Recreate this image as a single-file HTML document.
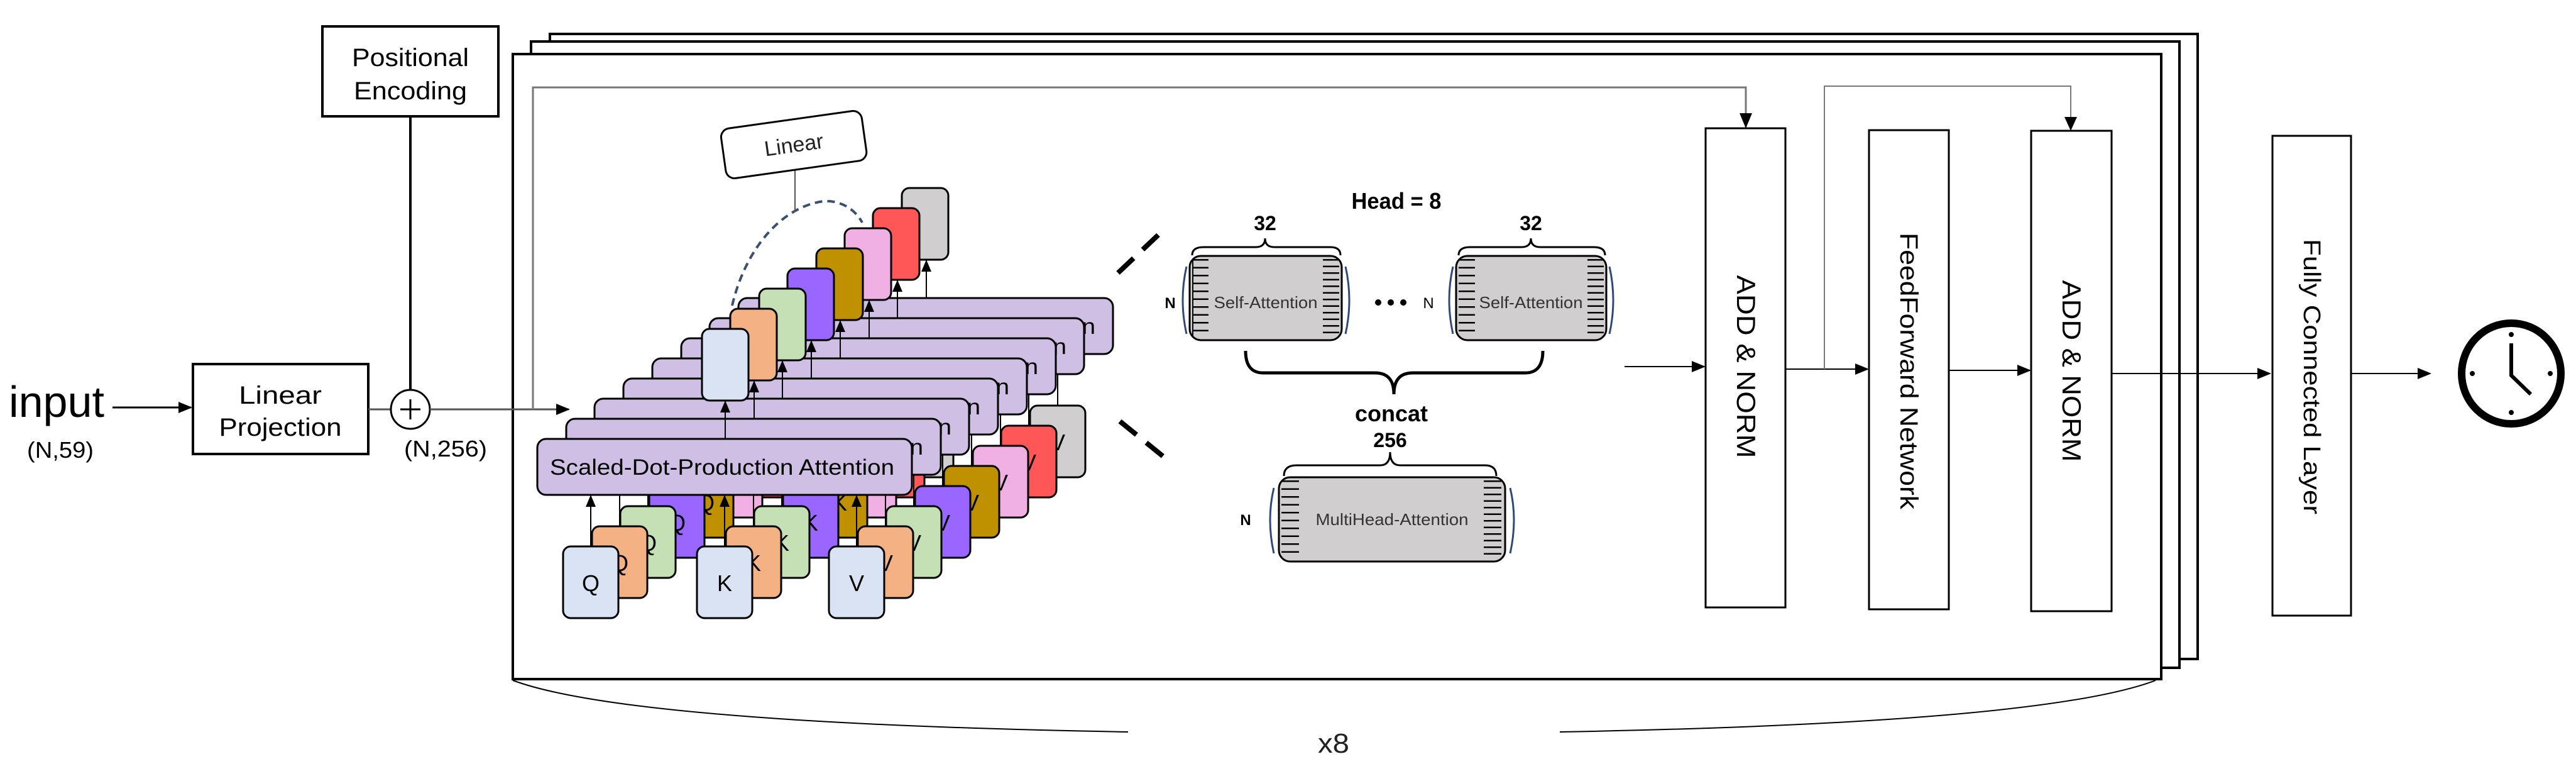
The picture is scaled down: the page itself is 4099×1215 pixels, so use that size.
<!DOCTYPE html>
<html><head><meta charset="utf-8"><style>
html,body{margin:0;padding:0;background:#fff;}
svg{display:block;}
text{font-family:"Liberation Sans",sans-serif;}
</style></head><body>
<svg width="4099" height="1215" viewBox="0 0 4099 1215" xmlns="http://www.w3.org/2000/svg">
<defs>
<marker id="ah" markerWidth="10" markerHeight="10" refX="9" refY="5" orient="auto" markerUnits="userSpaceOnUse" viewBox="0 0 10 10"><path d="M0,0 L10,5 L0,10 z" fill="#000"/></marker>
<marker id="ahb" markerWidth="22" markerHeight="22" refX="20" refY="11" orient="auto" markerUnits="userSpaceOnUse" viewBox="0 0 22 22"><path d="M0,2 L22,11 L0,20 z" fill="#000"/></marker>
</defs>

<!-- stacked frames -->
<rect x="875" y="54" width="2622" height="994" fill="#fff" stroke="#000" stroke-width="4"/>
<rect x="845" y="66" width="2623" height="996" fill="#fff" stroke="#000" stroke-width="4"/>
<rect x="816" y="86" width="2623" height="994" fill="#fff" stroke="#000" stroke-width="4"/>

<!-- left part -->
<text x="14" y="663" font-size="70" textLength="152" lengthAdjust="spacingAndGlyphs">input</text>
<text x="43" y="728" font-size="36" textLength="106" lengthAdjust="spacingAndGlyphs">(N,59)</text>
<line x1="179" y1="648" x2="304" y2="648" stroke="#000" stroke-width="3" marker-end="url(#ahb)"/>
<rect x="307" y="579" width="279" height="143" fill="#fff" stroke="#000" stroke-width="4"/>
<text x="446" y="642" font-size="40" text-anchor="middle" textLength="132" lengthAdjust="spacingAndGlyphs">Linear</text>
<text x="446" y="693" font-size="40" text-anchor="middle" textLength="195" lengthAdjust="spacingAndGlyphs">Projection</text>
<rect x="513" y="42" width="280" height="143" fill="#fff" stroke="#000" stroke-width="4"/>
<text x="653" y="105" font-size="40" text-anchor="middle" textLength="186" lengthAdjust="spacingAndGlyphs">Positional</text>
<text x="653" y="158" font-size="40" text-anchor="middle" textLength="180" lengthAdjust="spacingAndGlyphs">Encoding</text>
<line x1="653" y1="185" x2="653" y2="620" stroke="#000" stroke-width="4"/>
<line x1="586" y1="651" x2="622" y2="651" stroke="#555" stroke-width="3"/>
<circle cx="653" cy="651" r="31" fill="#fff" stroke="#000" stroke-width="3"/>
<path d="M653,635 V667 M637,651 H669" stroke="#000" stroke-width="3"/>
<text x="643" y="726" font-size="36" textLength="132" lengthAdjust="spacingAndGlyphs">(N,256)</text>
<line x1="684" y1="651" x2="905" y2="651" stroke="#555" stroke-width="3" marker-end="url(#ahb)"/>
<!-- residual gray line -->
<polyline points="848,651 848,139 2778,139 2778,202" fill="none" stroke="#777" stroke-width="3"/>
<path d="M2768,180 L2788,180 L2778,204 z" fill="#000"/>

<!-- attention stack layers back to front -->
<g id="layers">
<g transform="translate(320,-224)"><rect x="896" y="869" width="88" height="114" rx="12" fill="#d0cece" stroke="#000" stroke-width="3"/><text x="940" y="940" font-size="36" text-anchor="middle">Q</text><rect x="1109" y="869" width="88" height="114" rx="12" fill="#d0cece" stroke="#000" stroke-width="3"/><text x="1153" y="940" font-size="36" text-anchor="middle">K</text><rect x="1319" y="869" width="88" height="114" rx="12" fill="#d0cece" stroke="#000" stroke-width="3"/><text x="1363" y="940" font-size="36" text-anchor="middle">V</text><rect x="855" y="698" width="596" height="89" rx="14" fill="#d0bfe4" stroke="#000" stroke-width="3"/><text x="875" y="755" font-size="35" textLength="548" lengthAdjust="spacingAndGlyphs">Scaled-Dot-Production Attention</text><path d="M940,869V787M1153,869V787M1363,869V787M1154,698V637" stroke="#000" stroke-width="2"/><path d="M932,806L940,787L948,806zM1145,806L1153,787L1161,806zM1355,806L1363,787L1371,806zM1146,656L1154,637L1162,656z" fill="#000"/></g>
<g transform="translate(274,-192)"><rect x="896" y="869" width="88" height="114" rx="12" fill="#ff5757" stroke="#000" stroke-width="3"/><text x="940" y="940" font-size="36" text-anchor="middle">Q</text><rect x="1109" y="869" width="88" height="114" rx="12" fill="#ff5757" stroke="#000" stroke-width="3"/><text x="1153" y="940" font-size="36" text-anchor="middle">K</text><rect x="1319" y="869" width="88" height="114" rx="12" fill="#ff5757" stroke="#000" stroke-width="3"/><text x="1363" y="940" font-size="36" text-anchor="middle">V</text><rect x="855" y="698" width="596" height="89" rx="14" fill="#d0bfe4" stroke="#000" stroke-width="3"/><text x="875" y="755" font-size="35" textLength="548" lengthAdjust="spacingAndGlyphs">Scaled-Dot-Production Attention</text><path d="M940,869V787M1153,869V787M1363,869V787M1154,698V637" stroke="#000" stroke-width="2"/><path d="M932,806L940,787L948,806zM1145,806L1153,787L1161,806zM1355,806L1363,787L1371,806zM1146,656L1154,637L1162,656z" fill="#000"/></g>
<g transform="translate(229,-160)"><rect x="896" y="869" width="88" height="114" rx="12" fill="#f0b0e4" stroke="#000" stroke-width="3"/><text x="940" y="940" font-size="36" text-anchor="middle">Q</text><rect x="1109" y="869" width="88" height="114" rx="12" fill="#f0b0e4" stroke="#000" stroke-width="3"/><text x="1153" y="940" font-size="36" text-anchor="middle">K</text><rect x="1319" y="869" width="88" height="114" rx="12" fill="#f0b0e4" stroke="#000" stroke-width="3"/><text x="1363" y="940" font-size="36" text-anchor="middle">V</text><rect x="855" y="698" width="596" height="89" rx="14" fill="#d0bfe4" stroke="#000" stroke-width="3"/><text x="875" y="755" font-size="35" textLength="548" lengthAdjust="spacingAndGlyphs">Scaled-Dot-Production Attention</text><path d="M940,869V787M1153,869V787M1363,869V787M1154,698V637" stroke="#000" stroke-width="2"/><path d="M932,806L940,787L948,806zM1145,806L1153,787L1161,806zM1355,806L1363,787L1371,806zM1146,656L1154,637L1162,656z" fill="#000"/></g>
<g transform="translate(183,-128)"><rect x="896" y="869" width="88" height="114" rx="12" fill="#bf9000" stroke="#000" stroke-width="3"/><text x="940" y="940" font-size="36" text-anchor="middle">Q</text><rect x="1109" y="869" width="88" height="114" rx="12" fill="#bf9000" stroke="#000" stroke-width="3"/><text x="1153" y="940" font-size="36" text-anchor="middle">K</text><rect x="1319" y="869" width="88" height="114" rx="12" fill="#bf9000" stroke="#000" stroke-width="3"/><text x="1363" y="940" font-size="36" text-anchor="middle">V</text><rect x="855" y="698" width="596" height="89" rx="14" fill="#d0bfe4" stroke="#000" stroke-width="3"/><text x="875" y="755" font-size="35" textLength="548" lengthAdjust="spacingAndGlyphs">Scaled-Dot-Production Attention</text><path d="M940,869V787M1153,869V787M1363,869V787M1154,698V637" stroke="#000" stroke-width="2"/><path d="M932,806L940,787L948,806zM1145,806L1153,787L1161,806zM1355,806L1363,787L1371,806zM1146,656L1154,637L1162,656z" fill="#000"/></g>
<g transform="translate(137,-96)"><rect x="896" y="869" width="88" height="114" rx="12" fill="#9966ff" stroke="#000" stroke-width="3"/><text x="940" y="940" font-size="36" text-anchor="middle">Q</text><rect x="1109" y="869" width="88" height="114" rx="12" fill="#9966ff" stroke="#000" stroke-width="3"/><text x="1153" y="940" font-size="36" text-anchor="middle">K</text><rect x="1319" y="869" width="88" height="114" rx="12" fill="#9966ff" stroke="#000" stroke-width="3"/><text x="1363" y="940" font-size="36" text-anchor="middle">V</text><rect x="855" y="698" width="596" height="89" rx="14" fill="#d0bfe4" stroke="#000" stroke-width="3"/><text x="875" y="755" font-size="35" textLength="548" lengthAdjust="spacingAndGlyphs">Scaled-Dot-Production Attention</text><path d="M940,869V787M1153,869V787M1363,869V787M1154,698V637" stroke="#000" stroke-width="2"/><path d="M932,806L940,787L948,806zM1145,806L1153,787L1161,806zM1355,806L1363,787L1371,806zM1146,656L1154,637L1162,656z" fill="#000"/></g>
<g transform="translate(91,-64)"><rect x="896" y="869" width="88" height="114" rx="12" fill="#c5e0b4" stroke="#000" stroke-width="3"/><text x="940" y="940" font-size="36" text-anchor="middle">Q</text><rect x="1109" y="869" width="88" height="114" rx="12" fill="#c5e0b4" stroke="#000" stroke-width="3"/><text x="1153" y="940" font-size="36" text-anchor="middle">K</text><rect x="1319" y="869" width="88" height="114" rx="12" fill="#c5e0b4" stroke="#000" stroke-width="3"/><text x="1363" y="940" font-size="36" text-anchor="middle">V</text><rect x="855" y="698" width="596" height="89" rx="14" fill="#d0bfe4" stroke="#000" stroke-width="3"/><text x="875" y="755" font-size="35" textLength="548" lengthAdjust="spacingAndGlyphs">Scaled-Dot-Production Attention</text><path d="M940,869V787M1153,869V787M1363,869V787M1154,698V637" stroke="#000" stroke-width="2"/><path d="M932,806L940,787L948,806zM1145,806L1153,787L1161,806zM1355,806L1363,787L1371,806zM1146,656L1154,637L1162,656z" fill="#000"/></g>
<g transform="translate(46,-32)"><rect x="896" y="869" width="88" height="114" rx="12" fill="#f4b183" stroke="#000" stroke-width="3"/><text x="940" y="940" font-size="36" text-anchor="middle">Q</text><rect x="1109" y="869" width="88" height="114" rx="12" fill="#f4b183" stroke="#000" stroke-width="3"/><text x="1153" y="940" font-size="36" text-anchor="middle">K</text><rect x="1319" y="869" width="88" height="114" rx="12" fill="#f4b183" stroke="#000" stroke-width="3"/><text x="1363" y="940" font-size="36" text-anchor="middle">V</text><rect x="855" y="698" width="596" height="89" rx="14" fill="#d0bfe4" stroke="#000" stroke-width="3"/><text x="875" y="755" font-size="35" textLength="548" lengthAdjust="spacingAndGlyphs">Scaled-Dot-Production Attention</text><path d="M940,869V787M1153,869V787M1363,869V787M1154,698V637" stroke="#000" stroke-width="2"/><path d="M932,806L940,787L948,806zM1145,806L1153,787L1161,806zM1355,806L1363,787L1371,806zM1146,656L1154,637L1162,656z" fill="#000"/></g>
<g><rect x="896" y="869" width="88" height="114" rx="12" fill="#dae3f3" stroke="#000" stroke-width="3"/><text x="940" y="940" font-size="36" text-anchor="middle">Q</text><rect x="1109" y="869" width="88" height="114" rx="12" fill="#dae3f3" stroke="#000" stroke-width="3"/><text x="1153" y="940" font-size="36" text-anchor="middle">K</text><rect x="1319" y="869" width="88" height="114" rx="12" fill="#dae3f3" stroke="#000" stroke-width="3"/><text x="1363" y="940" font-size="36" text-anchor="middle">V</text><rect x="855" y="698" width="596" height="89" rx="14" fill="#d0bfe4" stroke="#000" stroke-width="3"/><text x="875" y="755" font-size="35" textLength="548" lengthAdjust="spacingAndGlyphs">Scaled-Dot-Production Attention</text><path d="M940,869V787M1153,869V787M1363,869V787M1154,698V637" stroke="#000" stroke-width="2"/><path d="M932,806L940,787L948,806zM1145,806L1153,787L1161,806zM1355,806L1363,787L1371,806zM1146,656L1154,637L1162,656z" fill="#000"/></g>
</g>

<!-- output cards -->
<rect x="1435" y="299" width="74" height="114" rx="12" fill="#d0cece" stroke="#000" stroke-width="3"/>
<rect x="1389" y="331" width="74" height="114" rx="12" fill="#ff5757" stroke="#000" stroke-width="3"/>
<rect x="1344" y="363" width="74" height="114" rx="12" fill="#f0b0e4" stroke="#000" stroke-width="3"/>
<rect x="1299" y="395" width="74" height="114" rx="12" fill="#bf9000" stroke="#000" stroke-width="3"/>
<rect x="1253" y="427" width="74" height="114" rx="12" fill="#9966ff" stroke="#000" stroke-width="3"/>
<rect x="1208" y="459" width="74" height="114" rx="12" fill="#c5e0b4" stroke="#000" stroke-width="3"/>
<rect x="1162" y="491" width="74" height="114" rx="12" fill="#f4b183" stroke="#000" stroke-width="3"/>
<rect x="1117" y="523" width="74" height="114" rx="12" fill="#dae3f3" stroke="#000" stroke-width="3"/>

<!-- Linear box and dashed curve -->
<path d="M1165,486 C1185,400 1240,330 1310,320 C1340,318 1362,335 1372,354" fill="none" stroke="#3a5070" stroke-width="4" stroke-dasharray="12 8"/>
<line x1="1265" y1="265" x2="1265" y2="337" stroke="#555" stroke-width="2"/>
<g transform="rotate(-8 1263 229)"><rect x="1150" y="190" width="226" height="80" rx="14" fill="#fff" stroke="#000" stroke-width="3"/><text x="1263" y="242" font-size="34" text-anchor="middle" fill="#222">Linear</text></g>

<!-- zoom dashed lines -->
<line x1="1779" y1="434" x2="1849" y2="368" stroke="#000" stroke-width="8" stroke-dasharray="34 20"/>
<line x1="1782" y1="670" x2="1856" y2="730" stroke="#000" stroke-width="8" stroke-dasharray="34 20"/>

<!-- heads -->
<text x="2222" y="332" font-size="36" font-weight="bold" text-anchor="middle" textLength="143" lengthAdjust="spacingAndGlyphs">Head = 8</text>
<text x="2013" y="366" font-size="32" font-weight="bold" text-anchor="middle">32</text>
<text x="2436" y="366" font-size="32" font-weight="bold" text-anchor="middle">32</text>
<path d="M1897,406 Q1897,393 1915,393 L1998,393 Q2013,393 2013,379 Q2013,393 2028,393 L2117,393 Q2133,393 2133,406" fill="none" stroke="#000" stroke-width="3"/>
<path d="M2321,406 Q2321,393 2339,393 L2421,393 Q2436,393 2436,379 Q2436,393 2451,393 L2536,393 Q2554,393 2554,406" fill="none" stroke="#000" stroke-width="3"/>

<g id="sa1">
<rect x="1893" y="407" width="242" height="134" rx="18" fill="#d0cece" stroke="#000" stroke-width="3"/>
<line x1="1910" y1="412" x2="1910" y2="537" stroke="#000" stroke-width="26" stroke-dasharray="2.5 10"/>
<line x1="2118" y1="412" x2="2118" y2="537" stroke="#000" stroke-width="26" stroke-dasharray="2.5 8"/>
<line x1="1898" y1="412" x2="1898" y2="537" stroke="#000" stroke-width="2"/>
</g>
<text x="2014" y="490" font-size="26" text-anchor="middle" fill="#333" textLength="165" lengthAdjust="spacingAndGlyphs">Self-Attention</text>
<rect x="2317" y="407" width="239" height="134" rx="18" fill="#d0cece" stroke="#000" stroke-width="3"/>
<line x1="2334" y1="412" x2="2334" y2="537" stroke="#000" stroke-width="26" stroke-dasharray="2.5 10"/>
<line x1="2539" y1="412" x2="2539" y2="537" stroke="#000" stroke-width="26" stroke-dasharray="2.5 8"/>
<text x="2436" y="490" font-size="26" text-anchor="middle" fill="#333" textLength="165" lengthAdjust="spacingAndGlyphs">Self-Attention</text>
<path d="M1888,424 Q1876,477 1888,531 M2141,424 Q2153,477 2141,531 M2312,424 Q2300,477 2312,531 M2561,424 Q2573,477 2561,531" fill="none" stroke="#2f4a7a" stroke-width="3"/>
<text x="1862" y="490" font-size="24" font-weight="bold" text-anchor="middle">N</text>
<text x="2273" y="490" font-size="24" text-anchor="middle">N</text>
<circle cx="2193" cy="481" r="5"/><circle cx="2213" cy="481" r="5"/><circle cx="2233" cy="481" r="5"/>
<path d="M1982,558 Q1982,593 2010,593 L2188,593 Q2218,593 2218,627 Q2218,593 2248,593 L2427,593 Q2455,593 2455,558" fill="none" stroke="#000" stroke-width="5"/>
<text x="2214" y="670" font-size="36" font-weight="bold" text-anchor="middle">concat</text>
<text x="2212" y="711" font-size="32" font-weight="bold" text-anchor="middle">256</text>
<path d="M2043,757 Q2043,740 2063,740 L2196,740 Q2212,740 2212,719 Q2212,740 2228,740 L2363,740 Q2381,740 2381,757" fill="none" stroke="#000" stroke-width="3"/>
<rect x="2035" y="759" width="360" height="134" rx="18" fill="#d0cece" stroke="#000" stroke-width="3"/>
<line x1="2053" y1="764" x2="2053" y2="889" stroke="#000" stroke-width="28" stroke-dasharray="2.5 10"/>
<line x1="2375" y1="764" x2="2375" y2="889" stroke="#000" stroke-width="28" stroke-dasharray="2.5 8"/>
<text x="2215" y="835" font-size="26" text-anchor="middle" fill="#333" textLength="243" lengthAdjust="spacingAndGlyphs">MultiHead-Attention</text>
<path d="M2027,776 Q2015,826 2027,880 M2403,776 Q2415,826 2403,880" fill="none" stroke="#2f4a7a" stroke-width="3"/>
<text x="1982" y="835" font-size="24" font-weight="bold" text-anchor="middle">N</text>

<!-- right blocks -->
<line x1="2585" y1="583" x2="2712" y2="583" stroke="#000" stroke-width="2" marker-end="url(#ahb)"/>
<rect x="2714" y="204" width="127" height="762" fill="#fff" stroke="#000" stroke-width="3"/>
<text transform="translate(2778,583) rotate(90)" x="0" y="14" font-size="42" text-anchor="middle" textLength="291" lengthAdjust="spacingAndGlyphs">ADD &amp; NORM</text>
<line x1="2841" y1="587" x2="2972" y2="587" stroke="#000" stroke-width="2" marker-end="url(#ahb)"/>
<polyline points="2903,587 2903,137 3295,137 3295,190" fill="none" stroke="#777" stroke-width="2"/>
<path d="M3285,186 L3305,186 L3295,208 z" fill="#000"/>
<rect x="2974" y="207" width="127" height="762" fill="#fff" stroke="#000" stroke-width="3"/>
<text transform="translate(3037,590) rotate(90)" x="0" y="13" font-size="40" text-anchor="middle" textLength="440" lengthAdjust="spacingAndGlyphs">FeedForward Network</text>
<line x1="3101" y1="589" x2="3230" y2="589" stroke="#000" stroke-width="2" marker-end="url(#ahb)"/>
<rect x="3232" y="208" width="128" height="764" fill="#fff" stroke="#000" stroke-width="3"/>
<text transform="translate(3296,590) rotate(90)" x="0" y="14" font-size="42" text-anchor="middle" textLength="289" lengthAdjust="spacingAndGlyphs">ADD &amp; NORM</text>
<line x1="3360" y1="594" x2="3612" y2="594" stroke="#000" stroke-width="2" marker-end="url(#ahb)"/>
<rect x="3616" y="216" width="125" height="763" fill="#fff" stroke="#000" stroke-width="3"/>
<text transform="translate(3679,599) rotate(90)" x="0" y="13" font-size="38" text-anchor="middle" textLength="438" lengthAdjust="spacingAndGlyphs">Fully Connected Layer</text>
<line x1="3741" y1="594" x2="3867" y2="594" stroke="#000" stroke-width="2" marker-end="url(#ahb)"/>
<!-- clock -->
<ellipse cx="3996" cy="594" rx="79" ry="80" fill="#fff" stroke="#000" stroke-width="12"/>
<circle cx="3996" cy="532" r="4"/><circle cx="3996" cy="656" r="4"/><circle cx="3934" cy="594" r="4"/><circle cx="4058" cy="594" r="4"/>
<polyline points="3996,546 3996,597 4027,627" fill="none" stroke="#000" stroke-width="6"/>

<!-- x8 arc -->
<path d="M816,1082 Q1000,1150 1795,1164" fill="none" stroke="#000" stroke-width="2"/>
<path d="M2482,1164 Q3250,1150 3430,1082" fill="none" stroke="#000" stroke-width="2"/>
<text x="2122" y="1197" font-size="44" text-anchor="middle" fill="#222" textLength="50" lengthAdjust="spacingAndGlyphs">x8</text>
</svg>
</body></html>
